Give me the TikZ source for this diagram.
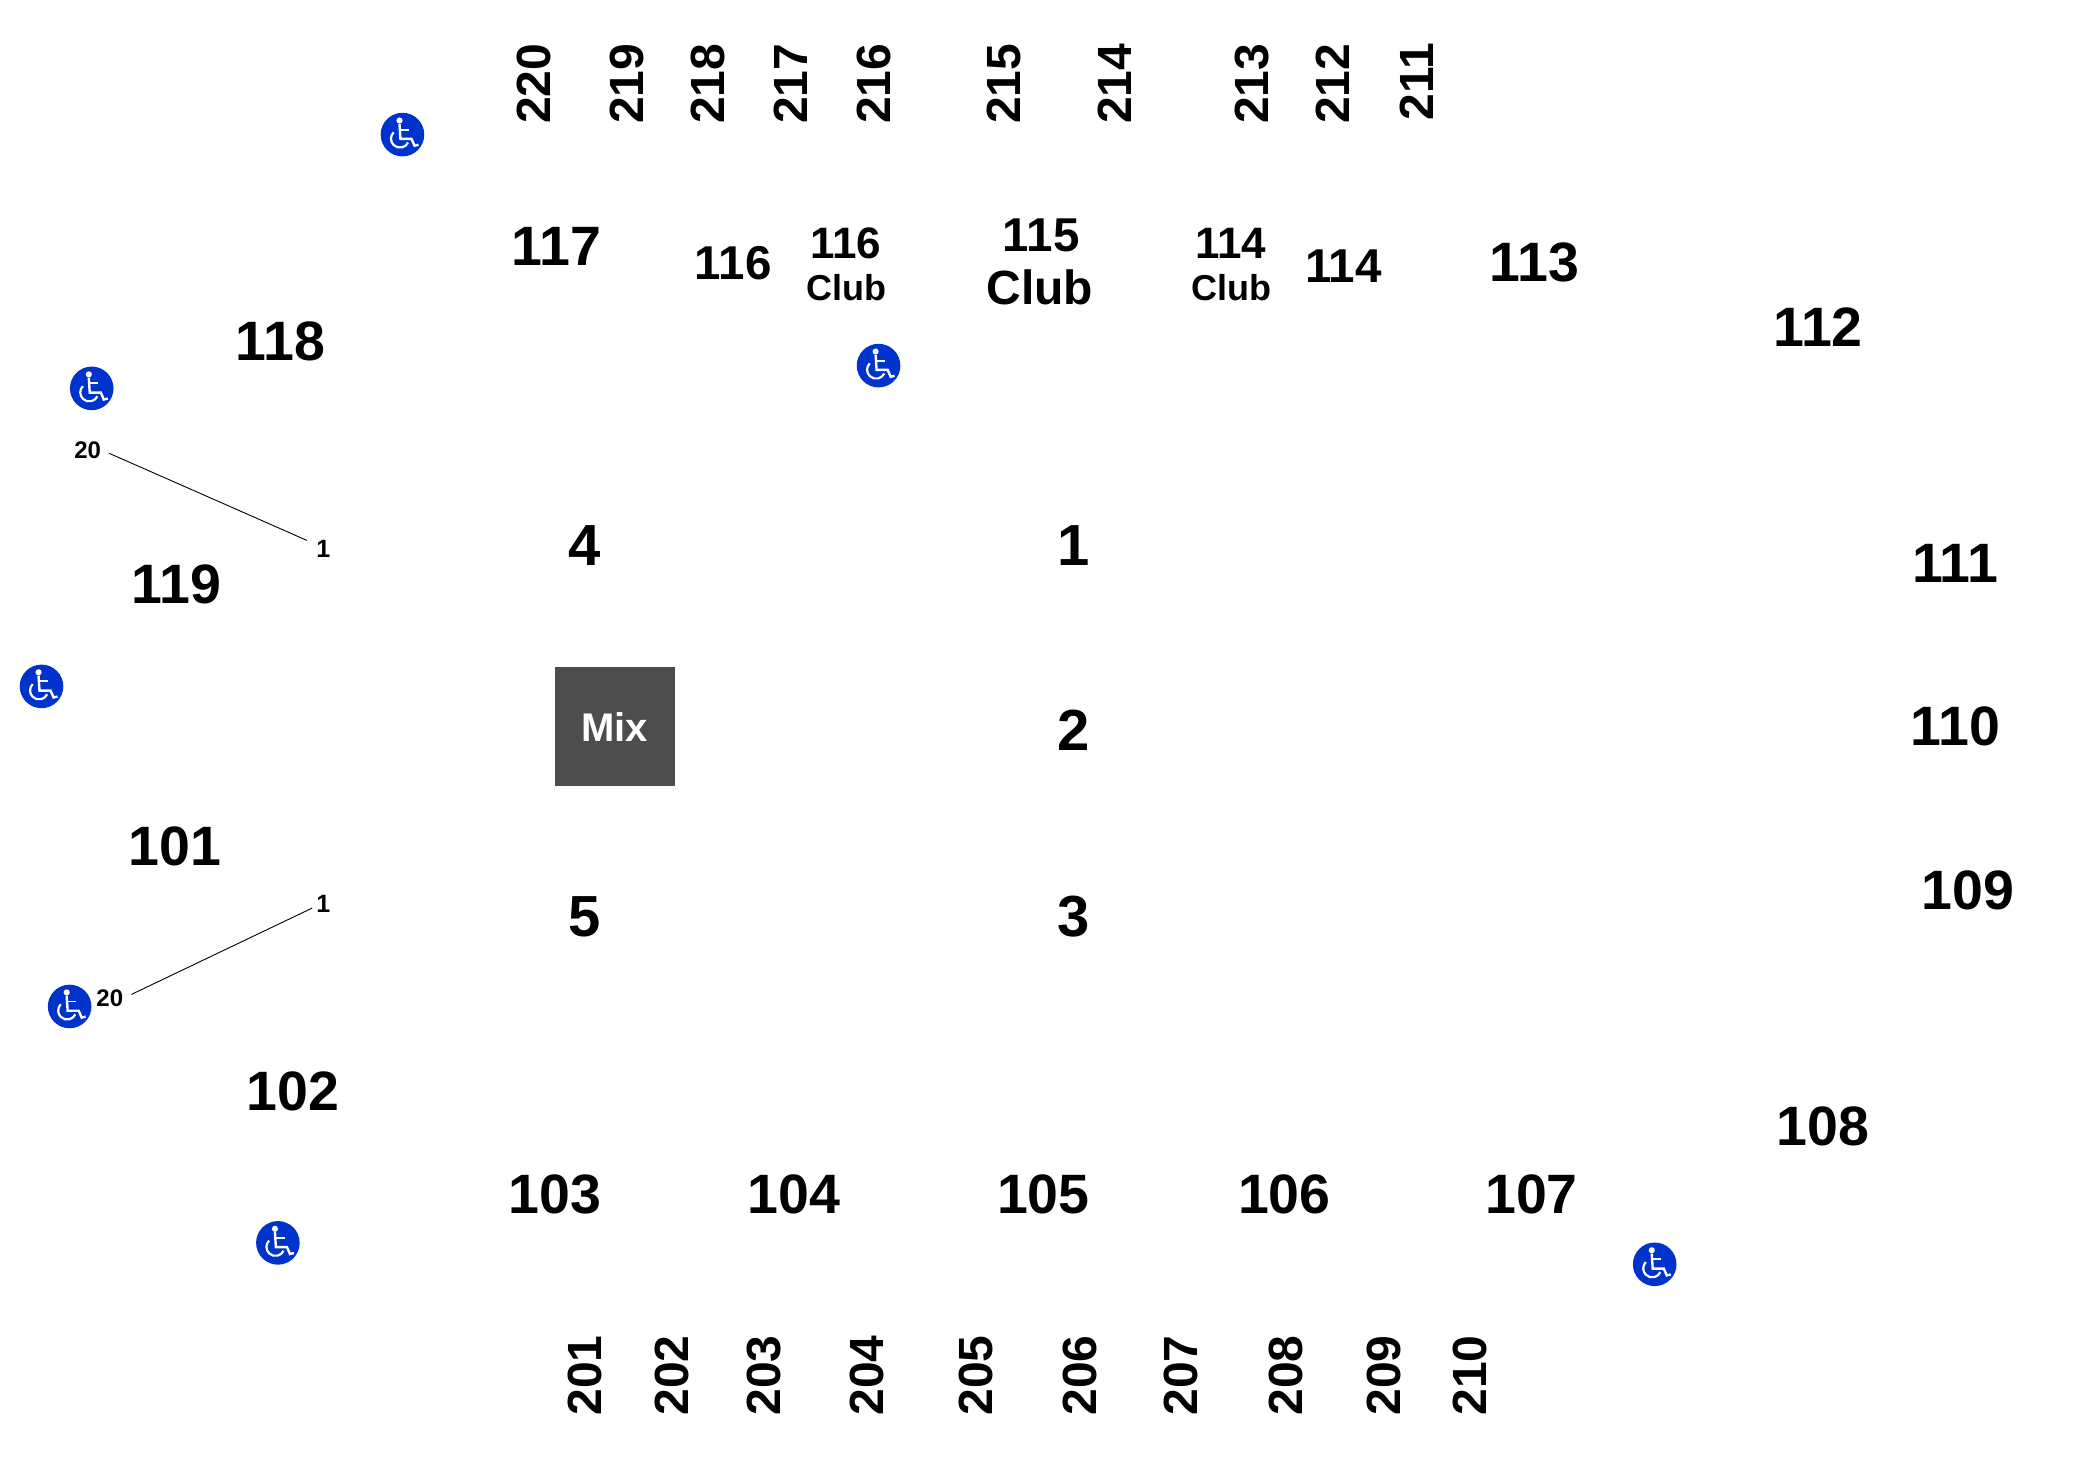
\documentclass[tikz,border=0pt]{standalone}
\usepackage{fontspec}
\setmainfont{Liberation Sans}
\definecolor{accessblue}{HTML}{0033CC}
\definecolor{mixgray}{HTML}{4D4D4D}
\tikzset{
    seclabel/.style={inner sep=0pt, font=\fontsize{55.5}{55.5}\selectfont\bfseries},
    floorlabel/.style={inner sep=0pt, font=\fontsize{58}{58}\selectfont\bfseries},
    uplabel/.style={inner sep=0pt, rotate=90, font=\fontsize{48}{48}\selectfont\bfseries},
    smalllabel/.style={inner sep=0pt, font=\fontsize{47.5}{47.5}\selectfont\bfseries},
    clublabel/.style={inner sep=0pt, font=\fontsize{36}{36}\selectfont\bfseries},
    rowlabel/.style={inner sep=0pt, font=\fontsize{24}{24}\selectfont\bfseries},
    accessdot/.style={circle, fill=accessblue, inner sep=0pt, minimum size=43.6pt},
    mixbox/.style={fill=mixgray, text=white, inner sep=0pt, minimum width=120pt, minimum height=119pt,
        font=\fontsize{40}{40}\selectfont\bfseries},
    chair/.pic={
        \fill[white] (-2.2,-10.5) circle (2.3);
        \draw[white, line width=2.4pt] (-2.2,-8) -- (-1.5,3.2) -- (6.8,3.2) -- (9,8.3) -- (12,7.6);
        \draw[white, line width=1.9pt] (-1.8,-3.7) -- (5,-3.7);
        \draw[white, line width=2.2pt] (-6.6,-1.7) arc[start angle=-135, end angle=-335, radius=6.7];
    }
}
\begin{document}
\begin{tikzpicture}[x=1.3393pt, y=-1.3393pt]

    \useasboundingbox (0, 0) rectangle (1568, 1093);

    % upper level
    \foreach \n/\x/\y in {220/398.5/62.5, 219/468.5/62.5, 218/528.5/62.5, 217/590.5/62.5, 216/652.5/62.5,
        215/749.5/62.5, 214/832.5/62.5, 213/934.5/62.5, 212/995/62.5, 211/1058/61} {
            \node [uplabel] (sec\n) at (\x, \y) {\n};
        }

    \foreach \n/\x in {201/437, 202/501.5, 203/570.5, 204/647.5, 205/728.5,
        206/806.5, 207/881.5, 208/960.5, 209/1033.5, 210/1097.5} {
            \node [uplabel] (sec\n) at (\x, 1027) {\n};
        }

    % lower level
    \foreach \n/\x/\y in {117/415.5/184, 118/209.5/255, 119/131.5/436, 101/130.5/632, 102/218.5/815,
        103/414.5/892, 104/593/892, 105/779/892, 106/959/892, 107/1143.5/892,
        108/1361/841, 109/1469.5/665, 110/1460/542, 111/1460/421, 112/1357.5/244, 113/1145.5/196} {
            \node [seclabel] (sec\n) at (\x, \y) {\n};
        }

    \node [smalllabel] (sec116) at (547.5, 196.5) {116};
    \node [smalllabel] (sec114) at (1003, 199) {114};

    % club boxes
    \node [smalllabel, font=\fontsize{44}{44}\selectfont\bfseries] (club116) at (631.5, 182) {116};
    \node [clublabel] (clubtxt116) at (632, 214.5) {Club};
    \node [smalllabel] (club115) at (777.5, 176) {115};
    \node [clublabel, font=\fontsize{48}{48}\selectfont\bfseries] (clubtxt115) at (776.5, 214.5) {Club};
    \node [smalllabel, font=\fontsize{44}{44}\selectfont\bfseries] (club114) at (919, 182) {114};
    \node [clublabel] (clubtxt114) at (919.5, 214.5) {Club};

    % floor
    \foreach \n/\x/\y in {4/436.5/407, 5/436.5/684.5, 1/801.5/407, 2/801.5/545, 3/801.5/684} {
            \node [floorlabel] (floor\n) at (\x, \y) {\n};
        }

    \node [mixbox] (mix) at (459, 542.5) {Mix};

    % row ends
    \node [rowlabel] (rowtwentya) at (65.5, 336) {20};
    \node [rowlabel, font=\fontsize{25}{25}\selectfont\bfseries] (rowonea) at (241.5, 409.5) {1};
    \node [rowlabel] (rowtwentyb) at (82, 745.5) {20};
    \node [rowlabel, font=\fontsize{25}{25}\selectfont\bfseries] (rowoneb) at (241.5, 675) {1};

    \draw [line width=0.9pt] ([shift={(6, 2.5)}]rowtwentya.east) -- ([shift={(-7, -6)}]rowonea.west);
    \draw [line width=0.9pt] ([shift={(6, -3)}]rowtwentyb.east) -- ([shift={(-3, 3)}]rowoneb.west);

    % wheelchair spots
    \foreach \i/\x/\y in {a/300.5/100.5, b/68.5/290, c/31/512.5, d/52/751.5, e/207.5/928, f/656/273, g/1235.5/944} {
            \node [accessdot] (access\i) at (\x, \y) {};
            \pic at (access\i) {chair};
        }

\end{tikzpicture}
\end{document}
